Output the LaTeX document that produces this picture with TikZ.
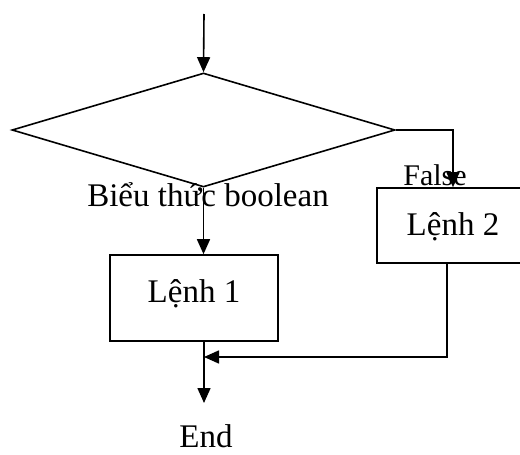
\documentclass[tikz,border=0pt]{standalone}
\usepackage{fontspec}
\setmainfont{Liberation Serif}
\usetikzlibrary{shapes.geometric,arrows.meta,positioning}
\tikzset{decision node/.style={diamond, draw, line width=1.6pt, inner sep=0pt,
    minimum width=383pt, minimum height=114pt}}
\tikzset{process node/.style={rectangle, draw, line width=1.6pt,
    font=\fontsize{33}{39}\selectfont}}
\tikzset{flow edge/.style={draw, line width=1.6pt, -{Triangle[width=13pt,length=15pt]}}}
\tikzset{label text/.style={font=\fontsize{33}{39}\selectfont, inner sep=0pt, anchor=base}}

\begin{document}
\begin{tikzpicture}[x=1pt, y=-1pt]
      \useasboundingbox (0,0) rectangle (520,455);

      \coordinate           (start)   at (204, 14);
      \node [decision node] (cond)    at (203.5, 130) {};
      \node [label text]    (condlbl) at (208, 206) {Biểu thức boolean};
      \node [process node, minimum width=168pt, minimum height=86pt,
             text height=22pt, text depth=14pt]
                            (lenh1)   at (194, 298) {Lệnh 1};
      \node [process node, minimum width=152pt, minimum height=75pt,
             text height=24pt, text depth=5pt]
                            (lenh2)   at (453, 225.5) {Lệnh 2};
      \node [label text, font=\fontsize{30}{36}\selectfont]
                            (false)   at (435, 185) {False};
      \coordinate           (join)    at (204, 357);
      \coordinate           (stop)    at (204, 403);
      \node [label text]    (end)     at (206, 447) {End};

      \draw [flow edge] (start)                    -- (cond.north);
      \draw [flow edge] (cond.south)               -- (cond.south |- lenh1.north);
      \draw [flow edge] (cond.east)                -| (lenh2.north);
      \draw [flow edge] ([xshift=-6pt]lenh2.south) |- (join);
      \draw [flow edge] (lenh1.south -| stop)      -- (stop);
\end{tikzpicture}
\end{document}
